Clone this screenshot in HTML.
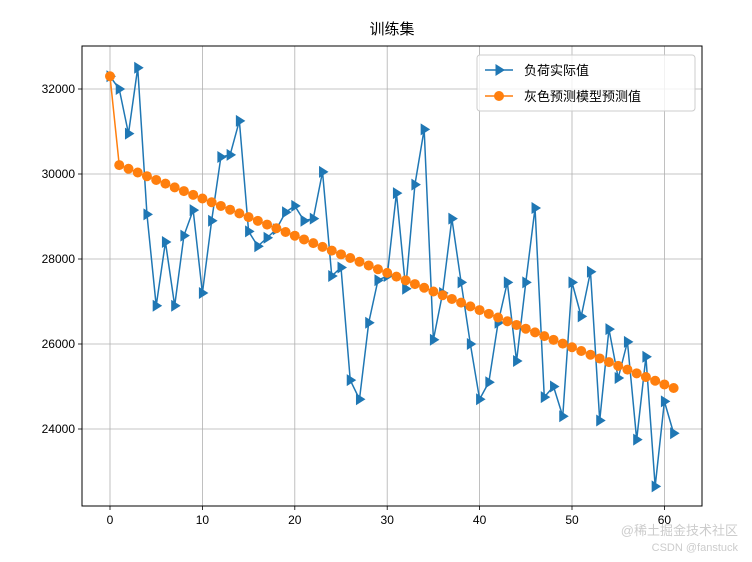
<!DOCTYPE html>
<html><head><meta charset="utf-8"><style>
body{margin:0;background:#fff;width:752px;height:557px;overflow:hidden;font-family:"Liberation Sans","Noto Sans CJK SC",sans-serif}
</style></head><body>
<svg id="chart" width="752" height="557" xmlns="http://www.w3.org/2000/svg" font-family="Liberation Sans, Noto Sans CJK SC, sans-serif"></svg>
<script>
const xTicks=[0,10,20,30,40,50,60];
const yTicks=[24000,26000,28000,30000,32000];
const actual=[32300,32000,30950,32500,29050,26900,28400,26900,28550,29150,27200,28900,30400,30450,31250,28650,28300,28500,28700,29100,29250,28900,28950,30050,27600,27800,25150,24700,26500,27500,27600,29550,27300,29750,31050,26100,27200,28950,27450,26000,24700,25100,26500,27450,25600,27450,29200,24750,25000,24300,27450,26650,27700,24200,26350,25200,26050,23750,25700,22650,24650,23900];
const predicted=[32300,30210,30123,30035,29948,29860,29773,29685,29598,29510,29423,29335,29248,29160,29073,28985,28898,28810,28723,28635,28548,28460,28373,28285,28198,28110,28023,27935,27848,27760,27673,27585,27498,27410,27323,27235,27148,27060,26973,26885,26798,26710,26623,26535,26448,26360,26273,26185,26098,26010,25923,25835,25748,25660,25573,25485,25398,25310,25223,25135,25048,24965];
const NS='http://www.w3.org/2000/svg';
const svg=document.getElementById('chart');
const L=82,R=702,T=46,B=506;
const X=v=>110+v*9.24;
const Y=v=>174-(v-30000)*0.0425;
function mk(tag,attrs,parent){const e=document.createElementNS(NS,tag);for(const k in attrs)e.setAttribute(k,attrs[k]);(parent||svg).appendChild(e);return e;}
// grid & ticks
xTicks.forEach(t=>{
  const g=mk('line',{x1:X(t),x2:X(t),y1:T,y2:B,stroke:'#b0b0b0','stroke-width':0.8});
  
  
  mk('line',{x1:X(t),x2:X(t),y1:B,y2:B+4,stroke:'#000','stroke-width':0.8});
  const tx=mk('text',{x:X(t),y:B+18,'text-anchor':'middle','font-size':12,fill:'#000'});
  tx.textContent=t;
  
  
});
yTicks.forEach(t=>{
  const g=mk('line',{x1:L,x2:R,y1:Y(t),y2:Y(t),stroke:'#b0b0b0','stroke-width':0.8});
  
  
  mk('line',{x1:L-4,x2:L,y1:Y(t),y2:Y(t),stroke:'#000','stroke-width':0.8});
  const tx=mk('text',{x:L-7,y:Y(t)+4,'text-anchor':'end','font-size':12,fill:'#000'});
  tx.textContent=t;
  
  
});
// actual series
const pa=mk('polyline',{points:actual.map((v,i)=>X(i)+','+Y(v)).join(' '),fill:'none',stroke:'#1f77b4','stroke-width':1.5});


actual.forEach((v,i)=>{
  const x=X(i),y=Y(v);
  const m=mk('polygon',{points:`${x+6},${y} ${x-3.5},${y-6} ${x-3.5},${y+6}`,fill:'#1f77b4'});
  
  
});
// predicted
const pp=mk('polyline',{points:predicted.map((v,i)=>X(i)+','+Y(v)).join(' '),fill:'none',stroke:'#ff7f0e','stroke-width':1.5});


predicted.forEach((v,i)=>{
  const c=mk('circle',{cx:X(i),cy:Y(v),r:5,fill:'#ff7f0e'});
  
  
});
// frame
const fr=mk('rect',{x:L,y:T,width:R-L,height:B-T,fill:'none',stroke:'#000','stroke-width':1});


// title
const ti=mk('text',{x:392,y:34,'text-anchor':'middle','font-size':15,fill:'#000'});
ti.textContent='训练集';


// legend
const lg=mk('g',{});


mk('rect',{x:477,y:55,width:218,height:56,rx:3,fill:'#fff','fill-opacity':0.8,stroke:'#ccc'},lg);
mk('line',{x1:485,x2:513,y1:70,y2:70,stroke:'#1f77b4','stroke-width':1.5},lg);
mk('polygon',{points:'505,70 495.5,64 495.5,76',fill:'#1f77b4'},lg);
const t1=mk('text',{x:524,y:75,'font-size':13,fill:'#000'},lg);t1.textContent='负荷实际值';


mk('line',{x1:485,x2:513,y1:96,y2:96,stroke:'#ff7f0e','stroke-width':1.5},lg);
mk('circle',{cx:499,cy:96,r:5,fill:'#ff7f0e'},lg);
const t2=mk('text',{x:524,y:101,'font-size':13,fill:'#000'},lg);t2.textContent='灰色预测模型预测值';


// watermark
const w1=mk('text',{x:738,y:535,'text-anchor':'end','font-size':13,fill:'#ccc'});w1.textContent='@稀土掘金技术社区';


const w2=mk('text',{x:738,y:551,'text-anchor':'end','font-size':11,fill:'#ccc'});w2.textContent='CSDN @fanstuck';


</script>
</body></html>
